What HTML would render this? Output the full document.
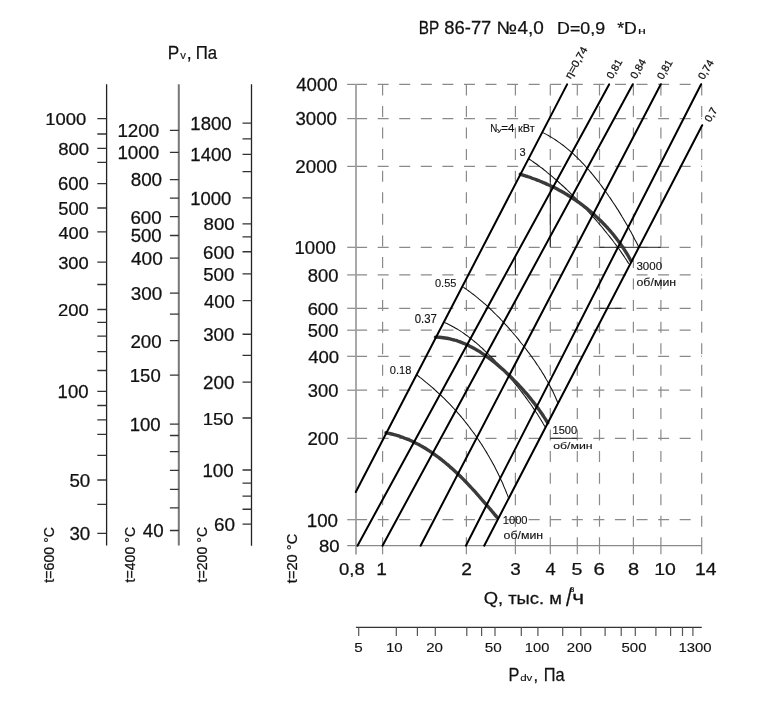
<!DOCTYPE html>
<html><head><meta charset="utf-8"><style>html,body{margin:0;padding:0;background:#fff;width:766px;height:709px;overflow:hidden}svg{display:block;will-change:transform}</style></head>
<body><svg width="766" height="709" viewBox="0 0 766 709">
<rect width="766" height="709" fill="#fff"/>
<line x1="106.6" y1="84.2" x2="106.6" y2="545.5" stroke="#222" stroke-width="1.3"/>
<path d="M97.3 118.7H106.6M97.3 134H106.6M97.3 148.3H106.6M97.3 162.3H106.6M97.3 183.7H106.6M97.3 208H106.6M97.3 231.9H106.6M97.3 262.2H106.6M97.3 284.5H106.6M97.3 309.5H106.6M97.3 322.3H106.6M97.3 336.2H106.6M97.3 351.6H106.6M97.3 370.5H106.6M97.3 391.4H106.6M97.3 405.5H106.6M97.3 419.9H106.6M97.3 434.4H106.6M97.3 455.3H106.6M97.3 480H106.6M97.3 504.3H106.6M97.3 533.4H106.6" stroke="#333" stroke-width="1.3" fill="none"/>
<line x1="178.8" y1="84.2" x2="178.8" y2="545.4" stroke="#777" stroke-width="2.0"/>
<path d="M169.9 130.4H178.8M169.9 152.3H178.8M169.9 179.7H178.8M169.9 198.1H178.8M169.9 216.7H178.8M169.9 235.5H178.8M169.9 258.2H178.8M169.9 293.2H178.8M169.9 314.1H178.8M169.9 340.6H178.8M169.9 375.1H178.8M169.9 424.1H178.8M169.9 435.5H178.8M169.9 451.7H178.8M169.9 470.4H178.8M169.9 489.3H178.8M169.9 507.85H178.8M169.9 530.5H178.8" stroke="#333" stroke-width="1.3" fill="none"/>
<line x1="251.5" y1="84.2" x2="251.5" y2="545.7" stroke="#222" stroke-width="1.3"/>
<path d="M242.5 123.2H251.5M242.5 138.8H251.5M242.5 154.4H251.5M242.5 171.7H251.5M242.5 197.8H251.5M242.5 223.9H251.5M242.5 236.9H251.5M242.5 251.75H251.5M242.5 273.9H251.5M242.5 300.7H251.5M242.5 334.25H251.5M242.5 355.4H251.5M242.5 382.2H251.5M242.5 418H251.5M242.5 470H251.5M242.5 483.1H251.5M242.5 496.2H251.5M242.5 509.25H251.5M242.5 524.1H251.5" stroke="#333" stroke-width="1.3" fill="none"/>
<line x1="347.2" y1="84.4" x2="356.1" y2="84.4" stroke="#8a8a8a" stroke-width="1.2"/>
<line x1="356.1" y1="84.4" x2="702" y2="84.4" stroke="#8a8a8a" stroke-width="1.2" stroke-dasharray="11 10.57"/>
<line x1="347.2" y1="118.6" x2="356.1" y2="118.6" stroke="#8a8a8a" stroke-width="1.2"/>
<line x1="356.1" y1="118.6" x2="702" y2="118.6" stroke="#8a8a8a" stroke-width="1.2" stroke-dasharray="11 10.57"/>
<line x1="347.2" y1="166.4" x2="356.1" y2="166.4" stroke="#8a8a8a" stroke-width="1.2"/>
<line x1="356.1" y1="166.4" x2="702" y2="166.4" stroke="#8a8a8a" stroke-width="1.2" stroke-dasharray="11 10.57"/>
<line x1="347.2" y1="247.3" x2="356.1" y2="247.3" stroke="#8a8a8a" stroke-width="1.2"/>
<line x1="356.1" y1="247.3" x2="702" y2="247.3" stroke="#8a8a8a" stroke-width="1.2" stroke-dasharray="11 10.57"/>
<line x1="347.2" y1="274.9" x2="356.1" y2="274.9" stroke="#8a8a8a" stroke-width="1.2"/>
<line x1="356.1" y1="274.9" x2="702" y2="274.9" stroke="#8a8a8a" stroke-width="1.2" stroke-dasharray="11 10.57"/>
<line x1="347.2" y1="308.3" x2="356.1" y2="308.3" stroke="#8a8a8a" stroke-width="1.2"/>
<line x1="356.1" y1="308.3" x2="702" y2="308.3" stroke="#8a8a8a" stroke-width="1.2" stroke-dasharray="11 10.57"/>
<line x1="347.2" y1="330.2" x2="356.1" y2="330.2" stroke="#8a8a8a" stroke-width="1.2"/>
<line x1="356.1" y1="330.2" x2="702" y2="330.2" stroke="#8a8a8a" stroke-width="1.2" stroke-dasharray="11 10.57"/>
<line x1="347.2" y1="356.3" x2="356.1" y2="356.3" stroke="#8a8a8a" stroke-width="1.2"/>
<line x1="356.1" y1="356.3" x2="702" y2="356.3" stroke="#8a8a8a" stroke-width="1.2" stroke-dasharray="11 10.57"/>
<line x1="347.2" y1="390.2" x2="356.1" y2="390.2" stroke="#8a8a8a" stroke-width="1.2"/>
<line x1="356.1" y1="390.2" x2="702" y2="390.2" stroke="#8a8a8a" stroke-width="1.2" stroke-dasharray="11 10.57"/>
<line x1="347.2" y1="438.3" x2="356.1" y2="438.3" stroke="#8a8a8a" stroke-width="1.2"/>
<line x1="356.1" y1="438.3" x2="702" y2="438.3" stroke="#8a8a8a" stroke-width="1.2" stroke-dasharray="11 10.57"/>
<line x1="347.2" y1="519.7" x2="356.1" y2="519.7" stroke="#8a8a8a" stroke-width="1.2"/>
<line x1="356.1" y1="519.7" x2="702" y2="519.7" stroke="#8a8a8a" stroke-width="1.2" stroke-dasharray="11 10.57"/>
<line x1="347.2" y1="545.6" x2="702" y2="545.6" stroke="#8a8a8a" stroke-width="1.3"/>
<line x1="382.6" y1="84.4" x2="382.6" y2="545.6" stroke="#8a8a8a" stroke-width="1.2" stroke-dasharray="11 10.57"/>
<line x1="382.6" y1="545.6" x2="382.6" y2="554.3" stroke="#8a8a8a" stroke-width="1.2"/>
<line x1="466.4" y1="84.4" x2="466.4" y2="545.6" stroke="#8a8a8a" stroke-width="1.2" stroke-dasharray="11 10.57"/>
<line x1="466.4" y1="545.6" x2="466.4" y2="554.3" stroke="#8a8a8a" stroke-width="1.2"/>
<line x1="515.4" y1="84.4" x2="515.4" y2="545.6" stroke="#8a8a8a" stroke-width="1.2" stroke-dasharray="11 10.57"/>
<line x1="515.4" y1="545.6" x2="515.4" y2="554.3" stroke="#8a8a8a" stroke-width="1.2"/>
<line x1="550.3" y1="84.4" x2="550.3" y2="545.6" stroke="#8a8a8a" stroke-width="1.2" stroke-dasharray="11 10.57"/>
<line x1="550.3" y1="545.6" x2="550.3" y2="554.3" stroke="#8a8a8a" stroke-width="1.2"/>
<line x1="577.3" y1="84.4" x2="577.3" y2="545.6" stroke="#8a8a8a" stroke-width="1.2" stroke-dasharray="11 10.57"/>
<line x1="577.3" y1="545.6" x2="577.3" y2="554.3" stroke="#8a8a8a" stroke-width="1.2"/>
<line x1="599.5" y1="84.4" x2="599.5" y2="545.6" stroke="#8a8a8a" stroke-width="1.2" stroke-dasharray="11 10.57"/>
<line x1="599.5" y1="545.6" x2="599.5" y2="554.3" stroke="#8a8a8a" stroke-width="1.2"/>
<line x1="633.4" y1="84.4" x2="633.4" y2="545.6" stroke="#8a8a8a" stroke-width="1.2" stroke-dasharray="11 10.57"/>
<line x1="633.4" y1="545.6" x2="633.4" y2="554.3" stroke="#8a8a8a" stroke-width="1.2"/>
<line x1="660.9" y1="84.4" x2="660.9" y2="545.6" stroke="#8a8a8a" stroke-width="1.2" stroke-dasharray="11 10.57"/>
<line x1="660.9" y1="545.6" x2="660.9" y2="554.3" stroke="#8a8a8a" stroke-width="1.2"/>
<line x1="701.7" y1="84.4" x2="701.7" y2="545.6" stroke="#8a8a8a" stroke-width="1.2" stroke-dasharray="11 10.57"/>
<line x1="701.7" y1="545.6" x2="701.7" y2="554.3" stroke="#8a8a8a" stroke-width="1.2"/>
<line x1="356.0" y1="84.1" x2="356.0" y2="554.6" stroke="#9a9a9a" stroke-width="1.7"/>
<line x1="550.3" y1="166.4" x2="550.3" y2="247.3" stroke="#222" stroke-width="1"/>
<line x1="599.3" y1="247.3" x2="660.9" y2="247.3" stroke="#222" stroke-width="1"/>
<line x1="515.4" y1="257.6" x2="515.4" y2="274.9" stroke="#222" stroke-width="1"/>
<line x1="599.6" y1="308.3" x2="621.5" y2="308.3" stroke="#222" stroke-width="1"/>
<line x1="466.3" y1="356.3" x2="496.0" y2="356.3" stroke="#222" stroke-width="1"/>
<line x1="550.2" y1="438.3" x2="577.4" y2="438.3" stroke="#222" stroke-width="1"/>
<path d="M542.8 132.6C543.4 132.9 545.2 133.8 546.3 134.4C547.5 135.0 548.6 135.7 549.7 136.3C550.9 137.0 552.0 137.7 553.1 138.4C554.2 139.0 555.3 139.8 556.4 140.5C557.4 141.2 558.5 141.9 559.5 142.7C560.6 143.5 561.6 144.2 562.7 145.0C563.7 145.8 564.7 146.6 565.7 147.4C566.7 148.2 567.7 149.0 568.7 149.9C569.6 150.7 570.6 151.6 571.6 152.4C572.5 153.3 573.5 154.1 574.4 155.0C575.4 155.9 576.3 156.8 577.2 157.7C578.1 158.6 579.1 159.5 580.0 160.4C580.9 161.4 581.8 162.3 582.6 163.2C583.5 164.2 584.4 165.1 585.3 166.1C586.1 167.0 587.0 168.0 587.9 169.0C588.7 169.9 589.6 170.9 590.4 171.9C591.2 172.9 592.1 173.9 592.9 174.9C593.7 175.9 594.5 176.9 595.3 177.9C596.1 178.9 596.9 179.9 597.7 180.9C598.5 182.0 599.3 183.0 600.1 184.0C600.9 185.1 601.7 186.1 602.4 187.1C603.2 188.2 604.0 189.2 604.7 190.3C605.5 191.3 606.2 192.4 607.0 193.5C607.7 194.5 608.5 195.6 609.2 196.7C609.9 197.7 610.7 198.8 611.4 199.9C612.1 201.0 612.8 202.0 613.5 203.1C614.3 204.2 615.0 205.3 615.7 206.4C616.4 207.5 617.1 208.6 617.8 209.6C618.4 210.7 619.1 211.8 619.8 212.9C620.5 214.0 621.2 215.1 621.8 216.3C622.5 217.4 623.2 218.5 623.8 219.6C624.5 220.7 625.1 221.8 625.8 222.9C626.4 224.0 627.1 225.2 627.7 226.3C628.4 227.4 629.0 228.5 629.6 229.7C630.2 230.8 630.9 231.9 631.5 233.0C632.1 234.2 632.7 235.3 633.3 236.5C633.9 237.6 634.5 238.7 635.1 239.9C635.7 241.0 636.3 242.2 636.9 243.3C637.5 244.5 638.3 246.2 638.6 246.8" stroke="#111" stroke-width="1.05" fill="none"/>
<path d="M529.1 159.0C529.6 159.4 531.2 160.4 532.2 161.1C533.2 161.8 534.3 162.5 535.3 163.3C536.3 164.0 537.3 164.7 538.3 165.5C539.3 166.2 540.3 167.0 541.3 167.7C542.3 168.5 543.3 169.2 544.2 170.0C545.2 170.8 546.2 171.5 547.1 172.3C548.1 173.1 549.1 173.9 550.0 174.7C551.0 175.5 551.9 176.3 552.9 177.1C553.8 177.9 554.7 178.7 555.7 179.5C556.6 180.3 557.5 181.1 558.5 182.0C559.4 182.8 560.3 183.6 561.2 184.5C562.1 185.3 563.1 186.1 564.0 187.0C564.9 187.8 565.8 188.7 566.7 189.5C567.6 190.4 568.5 191.2 569.4 192.1C570.2 193.0 571.1 193.8 572.0 194.7C572.9 195.6 573.8 196.5 574.7 197.3C575.5 198.2 576.4 199.1 577.3 200.0C578.2 200.9 579.0 201.8 579.9 202.7C580.8 203.6 581.6 204.5 582.5 205.4C583.3 206.3 584.2 207.2 585.0 208.1C585.9 209.0 586.7 209.9 587.6 210.8C588.4 211.7 589.3 212.7 590.1 213.6C590.9 214.5 591.8 215.4 592.6 216.4C593.4 217.3 594.3 218.2 595.1 219.2C595.9 220.1 596.7 221.0 597.5 222.0C598.4 222.9 599.2 223.9 600.0 224.8C600.8 225.8 601.6 226.7 602.4 227.7C603.2 228.6 604.0 229.6 604.8 230.6C605.6 231.5 606.4 232.5 607.1 233.5C607.9 234.4 608.7 235.4 609.5 236.4C610.2 237.4 611.0 238.4 611.8 239.3C612.5 240.3 613.3 241.3 614.0 242.3C614.8 243.3 615.5 244.3 616.3 245.3C617.0 246.3 617.8 247.3 618.5 248.3C619.2 249.3 619.9 250.3 620.6 251.3C621.3 252.3 622.1 253.4 622.7 254.4C623.4 255.4 624.1 256.4 624.8 257.5C625.5 258.5 626.2 259.5 626.8 260.6C627.5 261.6 628.5 263.2 628.8 263.7" stroke="#111" stroke-width="1.05" fill="none"/>
<path d="M463.3 287.2C463.8 287.6 465.5 288.6 466.5 289.4C467.6 290.1 468.6 290.9 469.7 291.6C470.7 292.4 471.8 293.2 472.8 294.0C473.8 294.8 474.8 295.6 475.8 296.4C476.9 297.2 477.9 298.0 478.8 298.8C479.8 299.6 480.8 300.5 481.8 301.3C482.8 302.1 483.7 303.0 484.7 303.8C485.7 304.7 486.6 305.6 487.6 306.4C488.5 307.3 489.5 308.2 490.4 309.1C491.3 310.0 492.3 310.9 493.2 311.8C494.1 312.7 495.0 313.6 495.9 314.5C496.8 315.4 497.8 316.3 498.7 317.2C499.6 318.2 500.4 319.1 501.3 320.0C502.2 321.0 503.1 321.9 504.0 322.9C504.9 323.8 505.7 324.8 506.6 325.7C507.5 326.7 508.3 327.6 509.2 328.6C510.0 329.6 510.9 330.5 511.7 331.5C512.6 332.5 513.4 333.5 514.3 334.5C515.1 335.5 515.9 336.4 516.8 337.4C517.6 338.4 518.4 339.4 519.2 340.4C520.0 341.4 520.8 342.5 521.6 343.5C522.5 344.5 523.3 345.5 524.0 346.5C524.8 347.5 525.6 348.6 526.4 349.6C527.2 350.6 528.0 351.7 528.7 352.7C529.5 353.7 530.3 354.8 531.0 355.8C531.8 356.9 532.5 357.9 533.3 359.0C534.0 360.0 534.8 361.1 535.5 362.1C536.2 363.2 536.9 364.3 537.6 365.3C538.4 366.4 539.1 367.5 539.8 368.6C540.5 369.7 541.2 370.7 541.8 371.8C542.5 372.9 543.2 374.0 543.9 375.1C544.5 376.2 545.2 377.3 545.8 378.5C546.5 379.6 547.1 380.7 547.7 381.8C548.4 382.9 549.0 384.1 549.6 385.2C550.2 386.3 550.8 387.5 551.4 388.6C552.0 389.8 552.5 390.9 553.1 392.1C553.7 393.3 554.2 394.4 554.7 395.6C555.3 396.8 555.8 398.0 556.3 399.2C556.8 400.4 557.6 402.2 557.8 402.8" stroke="#111" stroke-width="1.05" fill="none"/>
<path d="M444.4 322.4C445.0 322.7 446.7 323.4 447.9 324.0C449.0 324.5 450.1 325.1 451.2 325.7C452.3 326.3 453.4 326.9 454.5 327.5C455.6 328.1 456.7 328.8 457.8 329.4C458.8 330.1 459.9 330.7 460.9 331.4C462.0 332.1 463.0 332.8 464.0 333.5C465.1 334.3 466.1 335.0 467.1 335.7C468.1 336.5 469.1 337.2 470.1 338.0C471.1 338.8 472.0 339.5 473.0 340.3C474.0 341.1 474.9 341.9 475.9 342.7C476.9 343.5 477.8 344.4 478.8 345.2C479.7 346.0 480.6 346.9 481.6 347.7C482.5 348.6 483.4 349.4 484.3 350.3C485.2 351.1 486.2 352.0 487.1 352.9C488.0 353.8 488.9 354.7 489.7 355.5C490.6 356.4 491.5 357.3 492.4 358.2C493.3 359.1 494.2 360.0 495.0 360.9C495.9 361.9 496.8 362.8 497.6 363.7C498.5 364.6 499.3 365.5 500.2 366.5C501.0 367.4 501.9 368.3 502.7 369.3C503.6 370.2 504.4 371.2 505.2 372.1C506.1 373.1 506.9 374.0 507.7 375.0C508.5 375.9 509.3 376.9 510.1 377.8C511.0 378.8 511.8 379.7 512.6 380.7C513.4 381.7 514.2 382.6 515.0 383.6C515.8 384.6 516.5 385.6 517.3 386.5C518.1 387.5 518.9 388.5 519.7 389.5C520.4 390.5 521.2 391.5 522.0 392.4C522.7 393.4 523.5 394.4 524.2 395.4C525.0 396.4 525.7 397.4 526.5 398.4C527.2 399.4 528.0 400.4 528.7 401.5C529.4 402.5 530.2 403.5 530.9 404.5C531.6 405.5 532.3 406.6 533.0 407.6C533.7 408.6 534.4 409.7 535.1 410.7C535.8 411.7 536.5 412.8 537.2 413.8C537.9 414.9 538.5 416.0 539.2 417.0C539.9 418.1 540.5 419.2 541.2 420.2C541.8 421.3 542.5 422.4 543.1 423.5C543.8 424.6 544.7 426.3 545.0 426.8" stroke="#111" stroke-width="1.05" fill="none"/>
<path d="M416.8 374.9C417.3 375.3 418.9 376.5 419.9 377.3C421.0 378.1 422.0 378.9 423.1 379.8C424.1 380.6 425.1 381.4 426.1 382.3C427.1 383.1 428.2 384.0 429.2 384.8C430.2 385.7 431.2 386.6 432.2 387.4C433.2 388.3 434.2 389.2 435.2 390.1C436.1 391.0 437.1 391.9 438.1 392.8C439.1 393.7 440.0 394.6 441.0 395.5C442.0 396.4 442.9 397.3 443.9 398.2C444.8 399.2 445.7 400.1 446.7 401.1C447.6 402.0 448.5 402.9 449.5 403.9C450.4 404.9 451.3 405.8 452.2 406.8C453.1 407.8 454.0 408.7 454.9 409.7C455.8 410.7 456.7 411.7 457.5 412.7C458.4 413.7 459.3 414.7 460.2 415.7C461.0 416.7 461.9 417.7 462.7 418.7C463.6 419.8 464.4 420.8 465.2 421.8C466.1 422.9 466.9 423.9 467.7 424.9C468.5 426.0 469.3 427.0 470.1 428.1C470.9 429.2 471.7 430.2 472.5 431.3C473.3 432.4 474.1 433.4 474.9 434.5C475.6 435.6 476.4 436.7 477.1 437.8C477.9 438.9 478.6 439.9 479.4 441.1C480.1 442.2 480.9 443.3 481.6 444.4C482.3 445.5 483.0 446.6 483.7 447.7C484.4 448.8 485.1 450.0 485.8 451.1C486.5 452.2 487.2 453.4 487.8 454.5C488.5 455.7 489.2 456.8 489.8 458.0C490.5 459.1 491.1 460.3 491.8 461.4C492.4 462.6 493.0 463.8 493.7 464.9C494.3 466.1 494.9 467.3 495.5 468.5C496.1 469.7 496.7 470.8 497.3 472.0C497.9 473.2 498.5 474.4 499.0 475.6C499.6 476.8 500.2 478.0 500.7 479.2C501.3 480.4 501.8 481.6 502.4 482.8C502.9 484.1 503.4 485.3 503.9 486.5C504.5 487.7 505.0 489.0 505.5 490.2C506.0 491.4 506.5 492.6 507.0 493.9C507.5 495.1 508.2 497.0 508.4 497.6" stroke="#111" stroke-width="1.05" fill="none"/>
<path d="M520.3 174.3C520.9 174.5 522.7 175.0 523.9 175.4C525.1 175.8 526.3 176.2 527.5 176.5C528.6 176.9 529.8 177.3 531.0 177.7C532.2 178.2 533.3 178.6 534.5 179.0C535.6 179.4 536.8 179.9 537.9 180.3C539.1 180.8 540.2 181.2 541.4 181.7C542.5 182.2 543.6 182.7 544.8 183.1C545.9 183.6 547.0 184.1 548.1 184.7C549.3 185.2 550.4 185.7 551.5 186.2C552.6 186.8 553.7 187.3 554.8 187.8C555.9 188.4 557.0 189.0 558.0 189.5C559.1 190.1 560.2 190.7 561.3 191.3C562.3 191.9 563.4 192.5 564.5 193.1C565.5 193.7 566.6 194.4 567.6 195.0C568.7 195.7 569.7 196.3 570.8 197.0C571.8 197.6 572.8 198.3 573.8 199.0C574.9 199.7 575.9 200.4 576.9 201.1C577.9 201.8 578.9 202.5 579.9 203.2C580.9 204.0 581.9 204.7 582.9 205.4C583.9 206.2 584.8 206.9 585.8 207.7C586.8 208.5 587.8 209.3 588.7 210.1C589.7 210.8 590.6 211.6 591.6 212.5C592.5 213.3 593.4 214.1 594.4 214.9C595.3 215.7 596.2 216.6 597.1 217.4C598.0 218.3 598.9 219.1 599.8 220.0C600.7 220.9 601.6 221.7 602.5 222.6C603.3 223.5 604.2 224.4 605.1 225.3C605.9 226.2 606.8 227.1 607.6 228.0C608.4 229.0 609.3 229.9 610.1 230.8C610.9 231.8 611.7 232.7 612.5 233.7C613.3 234.6 614.1 235.6 614.8 236.6C615.6 237.5 616.4 238.5 617.1 239.5C617.9 240.5 618.6 241.5 619.4 242.5C620.1 243.4 620.8 244.4 621.5 245.5C622.2 246.5 622.9 247.5 623.6 248.5C624.2 249.5 624.9 250.5 625.6 251.6C626.2 252.6 626.8 253.6 627.5 254.7C628.1 255.7 628.7 256.8 629.3 257.8C629.9 258.9 630.7 260.5 631.0 261.0" stroke="#3a3a3a" stroke-width="3.4" fill="none" stroke-linecap="round"/>
<path d="M435.4 337.1C436.0 337.1 438.0 337.2 439.3 337.3C440.6 337.4 441.9 337.5 443.2 337.7C444.5 337.9 445.7 338.1 447.0 338.3C448.2 338.5 449.4 338.8 450.7 339.1C451.9 339.4 453.1 339.7 454.3 340.0C455.5 340.4 456.7 340.7 457.8 341.1C459.0 341.5 460.2 342.0 461.3 342.4C462.5 342.8 463.6 343.3 464.8 343.8C465.9 344.3 467.0 344.8 468.1 345.3C469.2 345.9 470.3 346.4 471.4 347.0C472.5 347.6 473.6 348.2 474.7 348.8C475.8 349.4 476.8 350.0 477.9 350.6C479.0 351.3 480.0 351.9 481.0 352.6C482.1 353.3 483.1 354.0 484.1 354.7C485.2 355.4 486.2 356.1 487.2 356.8C488.2 357.5 489.2 358.3 490.2 359.0C491.2 359.8 492.2 360.6 493.2 361.3C494.2 362.1 495.1 362.9 496.1 363.7C497.1 364.5 498.0 365.3 499.0 366.1C500.0 366.9 500.9 367.8 501.8 368.6C502.8 369.4 503.7 370.3 504.7 371.1C505.6 372.0 506.5 372.8 507.4 373.7C508.3 374.6 509.2 375.4 510.1 376.3C511.0 377.2 511.9 378.1 512.8 379.0C513.7 379.9 514.6 380.8 515.5 381.7C516.3 382.6 517.2 383.5 518.1 384.4C518.9 385.3 519.8 386.2 520.6 387.2C521.5 388.1 522.3 389.0 523.2 390.0C524.0 390.9 524.8 391.8 525.6 392.8C526.5 393.7 527.3 394.7 528.1 395.6C528.9 396.6 529.7 397.6 530.5 398.5C531.2 399.5 532.0 400.5 532.8 401.5C533.6 402.4 534.3 403.4 535.1 404.4C535.9 405.4 536.6 406.4 537.3 407.4C538.1 408.4 538.8 409.4 539.5 410.4C540.2 411.4 541.0 412.5 541.7 413.5C542.4 414.5 543.1 415.5 543.7 416.6C544.4 417.6 545.1 418.7 545.8 419.7C546.4 420.8 547.4 422.4 547.7 422.9" stroke="#3a3a3a" stroke-width="3.4" fill="none" stroke-linecap="round"/>
<path d="M386.0 432.8C386.6 432.9 388.4 433.3 389.6 433.5C390.8 433.8 392.0 434.1 393.2 434.4C394.4 434.7 395.6 435.1 396.8 435.4C398.0 435.8 399.1 436.1 400.3 436.5C401.4 436.9 402.6 437.3 403.7 437.8C404.9 438.2 406.0 438.6 407.2 439.1C408.3 439.6 409.4 440.0 410.5 440.5C411.6 441.0 412.7 441.6 413.8 442.1C414.9 442.6 416.0 443.2 417.1 443.7C418.2 444.3 419.2 444.9 420.3 445.5C421.4 446.0 422.4 446.6 423.5 447.3C424.5 447.9 425.6 448.5 426.6 449.2C427.7 449.8 428.7 450.5 429.7 451.1C430.7 451.8 431.7 452.5 432.7 453.2C433.7 453.9 434.7 454.6 435.7 455.3C436.7 456.0 437.7 456.7 438.7 457.5C439.7 458.2 440.6 459.0 441.6 459.7C442.5 460.5 443.5 461.2 444.4 462.0C445.4 462.8 446.3 463.6 447.3 464.4C448.2 465.2 449.1 466.0 450.0 466.8C451.0 467.6 451.9 468.4 452.8 469.2C453.7 470.0 454.6 470.9 455.5 471.7C456.4 472.5 457.3 473.4 458.2 474.2C459.1 475.1 459.9 475.9 460.8 476.8C461.7 477.7 462.5 478.5 463.4 479.4C464.3 480.3 465.1 481.1 466.0 482.0C466.8 482.9 467.7 483.8 468.5 484.7C469.4 485.6 470.2 486.5 471.0 487.4C471.9 488.3 472.7 489.2 473.5 490.1C474.3 491.0 475.2 491.9 476.0 492.8C476.8 493.7 477.6 494.6 478.4 495.5C479.2 496.5 480.0 497.4 480.8 498.3C481.6 499.2 482.4 500.1 483.2 501.1C484.0 502.0 484.8 502.9 485.6 503.8C486.4 504.8 487.2 505.7 488.0 506.6C488.8 507.5 489.6 508.5 490.4 509.4C491.2 510.3 491.9 511.3 492.7 512.2C493.5 513.1 494.3 514.1 495.1 515.0C495.9 515.9 497.0 517.3 497.4 517.8" stroke="#3a3a3a" stroke-width="3.4" fill="none" stroke-linecap="round"/>
<line x1="355.8" y1="492.0" x2="567.1" y2="84.4" stroke="#000" stroke-width="2.0" stroke-linecap="round"/>
<line x1="357.5" y1="545.7" x2="609.1" y2="84.4" stroke="#000" stroke-width="2.0" stroke-linecap="round"/>
<line x1="382.5" y1="545.7" x2="632.8" y2="84.2" stroke="#000" stroke-width="2.0" stroke-linecap="round"/>
<line x1="420.6" y1="545.7" x2="660.8" y2="84.2" stroke="#000" stroke-width="2.0" stroke-linecap="round"/>
<line x1="465.9" y1="545.7" x2="701.1" y2="84.2" stroke="#000" stroke-width="2.0" stroke-linecap="round"/>
<line x1="484.2" y1="545.7" x2="702.2" y2="125.2" stroke="#000" stroke-width="2.0" stroke-linecap="round"/>
<line x1="355.9" y1="627.4" x2="701.8" y2="627.4" stroke="#333" stroke-width="1.1"/>
<path d="M358.7 627.4V636.1M396.3 627.4V636.1M417.4 627.4V636.1M435.3 627.4V636.1M466.8 627.4V636.1M481.6 627.4V636.1M495 627.4V636.1M521.3 627.4V636.1M537.9 627.4V636.1M562.7 627.4V636.1M580.8 627.4V636.1M605.1 627.4V636.1M621.2 627.4V636.1M635.3 627.4V636.1M655.9 627.4V636.1M670.6 627.4V636.1M682.5 627.4V636.1M692.9 627.4V636.1" stroke="#555" stroke-width="1.2" fill="none"/>
<text font-family="Liberation Sans" font-size="17.97" fill="#111" stroke="#111" stroke-width="0.25" transform="matrix(0.8532 0 0 1 418.87 33.60)">ВР</text>
<text font-family="Liberation Sans" font-size="17.71" fill="#111" stroke="#111" stroke-width="0.25" transform="matrix(1.0376 0 0 1 444.36 33.60)">86-77</text>
<text font-family="Liberation Sans" font-size="17.97" fill="#111" stroke="#111" stroke-width="0.25" transform="matrix(1.0650 0 0 1 496.58 33.60)">№</text>
<text font-family="Liberation Sans" font-size="17.71" fill="#111" stroke="#111" stroke-width="0.25" transform="matrix(1.0696 0 0 1 517.52 33.60)">4,0</text>
<text font-family="Liberation Sans" font-size="17.39" fill="#111" stroke="#111" stroke-width="0.25" transform="matrix(1.0247 0 0 1 557.07 33.50)">D=0,9</text>
<text font-family="Liberation Sans" font-size="17.39" fill="#111" stroke="#111" stroke-width="0.25" transform="matrix(1.0131 0 0 1 617.15 33.50)">*D</text>
<text font-family="Liberation Sans" font-size="8.49" fill="#111" stroke="#111" stroke-width="0.12" transform="matrix(1.6825 0 0 1 638.00 33.50)">н</text>
<text font-family="Liberation Sans" font-size="18.12" fill="#111" stroke="#111" stroke-width="0.25" transform="matrix(0.9507 0 0 1 167.82 58.80)">P</text>
<text font-family="Liberation Sans" font-size="10.00" fill="#111" stroke="#111" stroke-width="0.12" transform="matrix(1.1400 0 0 1 180.30 58.80)">v</text>
<text font-family="Liberation Sans" font-size="17.50" fill="#111" stroke="#111" stroke-width="0.25" transform="matrix(1.0000 0 0 1 186.65 58.80)">,</text>
<text font-family="Liberation Sans" font-size="18.12" fill="#111" stroke="#111" stroke-width="0.25" transform="matrix(0.9246 0 0 1 195.76 58.80)">Па</text>
<text font-family="Liberation Sans" font-size="17.18" fill="#111" stroke="#111" stroke-width="0.25" transform="matrix(1.0733 0 0 1 45.31 124.83)">1000</text>
<text font-family="Liberation Sans" font-size="17.32" fill="#111" stroke="#111" stroke-width="0.25" transform="matrix(1.0746 0 0 1 58.16 154.83)">800</text>
<text font-family="Liberation Sans" font-size="17.46" fill="#111" stroke="#111" stroke-width="0.25" transform="matrix(1.0582 0 0 1 57.98 189.83)">600</text>
<text font-family="Liberation Sans" font-size="17.89" fill="#111" stroke="#111" stroke-width="0.25" transform="matrix(1.0267 0 0 1 58.17 214.82)">500</text>
<text font-family="Liberation Sans" font-size="17.32" fill="#111" stroke="#111" stroke-width="0.25" transform="matrix(1.0469 0 0 1 58.54 239.13)">400</text>
<text font-family="Liberation Sans" font-size="17.32" fill="#111" stroke="#111" stroke-width="0.25" transform="matrix(1.0601 0 0 1 58.17 269.13)">300</text>
<text font-family="Liberation Sans" font-size="17.18" fill="#111" stroke="#111" stroke-width="0.25" transform="matrix(1.0755 0 0 1 57.98 316.03)">200</text>
<text font-family="Liberation Sans" font-size="17.61" fill="#111" stroke="#111" stroke-width="0.25" transform="matrix(1.0523 0 0 1 57.60 397.82)">100</text>
<text font-family="Liberation Sans" font-size="17.46" fill="#111" stroke="#111" stroke-width="0.25" transform="matrix(1.0729 0 0 1 69.45 486.63)">50</text>
<text font-family="Liberation Sans" font-size="17.61" fill="#111" stroke="#111" stroke-width="0.25" transform="matrix(1.0643 0 0 1 69.45 539.82)">30</text>
<text font-family="Liberation Sans" font-size="17.46" fill="#111" stroke="#111" stroke-width="0.25" transform="matrix(1.0776 0 0 1 117.38 136.63)">1200</text>
<text font-family="Liberation Sans" font-size="17.89" fill="#111" stroke="#111" stroke-width="0.25" transform="matrix(1.0522 0 0 1 117.38 158.72)">1000</text>
<text font-family="Liberation Sans" font-size="17.46" fill="#111" stroke="#111" stroke-width="0.25" transform="matrix(1.0803 0 0 1 130.65 185.93)">800</text>
<text font-family="Liberation Sans" font-size="17.89" fill="#111" stroke="#111" stroke-width="0.25" transform="matrix(1.0473 0 0 1 130.46 224.02)">600</text>
<text font-family="Liberation Sans" font-size="17.46" fill="#111" stroke="#111" stroke-width="0.25" transform="matrix(1.0659 0 0 1 130.66 241.63)">500</text>
<text font-family="Liberation Sans" font-size="17.46" fill="#111" stroke="#111" stroke-width="0.25" transform="matrix(1.0918 0 0 1 131.02 265.03)">400</text>
<text font-family="Liberation Sans" font-size="17.89" fill="#111" stroke="#111" stroke-width="0.25" transform="matrix(1.0548 0 0 1 130.65 299.82)">300</text>
<text font-family="Liberation Sans" font-size="17.46" fill="#111" stroke="#111" stroke-width="0.25" transform="matrix(1.0727 0 0 1 130.46 347.83)">200</text>
<text font-family="Liberation Sans" font-size="17.46" fill="#111" stroke="#111" stroke-width="0.25" transform="matrix(1.0607 0 0 1 129.80 382.03)">150</text>
<text font-family="Liberation Sans" font-size="17.46" fill="#111" stroke="#111" stroke-width="0.25" transform="matrix(1.0644 0 0 1 129.70 430.53)">100</text>
<text font-family="Liberation Sans" font-size="17.46" fill="#111" stroke="#111" stroke-width="0.25" transform="matrix(1.0743 0 0 1 142.72 536.83)">40</text>
<text font-family="Liberation Sans" font-size="17.46" fill="#111" stroke="#111" stroke-width="0.25" transform="matrix(1.0641 0 0 1 190.30 129.83)">1800</text>
<text font-family="Liberation Sans" font-size="17.46" fill="#111" stroke="#111" stroke-width="0.25" transform="matrix(1.0641 0 0 1 190.30 160.83)">1400</text>
<text font-family="Liberation Sans" font-size="17.61" fill="#111" stroke="#111" stroke-width="0.25" transform="matrix(1.0503 0 0 1 190.31 204.72)">1000</text>
<text font-family="Liberation Sans" font-size="17.18" fill="#111" stroke="#111" stroke-width="0.25" transform="matrix(1.0834 0 0 1 203.56 230.33)">800</text>
<text font-family="Liberation Sans" font-size="17.89" fill="#111" stroke="#111" stroke-width="0.25" transform="matrix(1.0473 0 0 1 203.06 258.62)">600</text>
<text font-family="Liberation Sans" font-size="17.89" fill="#111" stroke="#111" stroke-width="0.25" transform="matrix(1.0408 0 0 1 203.26 280.82)">500</text>
<text font-family="Liberation Sans" font-size="18.03" fill="#111" stroke="#111" stroke-width="0.25" transform="matrix(1.0232 0 0 1 203.93 307.62)">400</text>
<text font-family="Liberation Sans" font-size="17.89" fill="#111" stroke="#111" stroke-width="0.25" transform="matrix(1.0408 0 0 1 203.26 340.72)">300</text>
<text font-family="Liberation Sans" font-size="17.61" fill="#111" stroke="#111" stroke-width="0.25" transform="matrix(1.0641 0 0 1 203.06 388.82)">200</text>
<text font-family="Liberation Sans" font-size="17.32" fill="#111" stroke="#111" stroke-width="0.25" transform="matrix(1.0694 0 0 1 202.70 424.63)">150</text>
<text font-family="Liberation Sans" font-size="17.46" fill="#111" stroke="#111" stroke-width="0.25" transform="matrix(1.0718 0 0 1 202.39 476.63)">100</text>
<text font-family="Liberation Sans" font-size="17.46" fill="#111" stroke="#111" stroke-width="0.25" transform="matrix(1.0834 0 0 1 214.05 530.73)">60</text>
<text font-family="Liberation Sans" font-size="17.61" fill="#111" stroke="#111" stroke-width="0.25" transform="matrix(1.0601 0 0 1 296.23 91.02)">4000</text>
<text font-family="Liberation Sans" font-size="17.46" fill="#111" stroke="#111" stroke-width="0.25" transform="matrix(1.0706 0 0 1 295.45 124.83)">3000</text>
<text font-family="Liberation Sans" font-size="17.75" fill="#111" stroke="#111" stroke-width="0.25" transform="matrix(1.0585 0 0 1 295.26 172.82)">2000</text>
<text font-family="Liberation Sans" font-size="17.46" fill="#111" stroke="#111" stroke-width="0.25" transform="matrix(1.0668 0 0 1 294.50 253.53)">1000</text>
<text font-family="Liberation Sans" font-size="17.75" fill="#111" stroke="#111" stroke-width="0.25" transform="matrix(1.0348 0 0 1 307.87 281.72)">800</text>
<text font-family="Liberation Sans" font-size="17.32" fill="#111" stroke="#111" stroke-width="0.25" transform="matrix(1.0558 0 0 1 307.69 314.63)">600</text>
<text font-family="Liberation Sans" font-size="17.89" fill="#111" stroke="#111" stroke-width="0.25" transform="matrix(1.0267 0 0 1 307.87 337.02)">500</text>
<text font-family="Liberation Sans" font-size="17.32" fill="#111" stroke="#111" stroke-width="0.25" transform="matrix(1.0720 0 0 1 308.23 362.83)">400</text>
<text font-family="Liberation Sans" font-size="17.89" fill="#111" stroke="#111" stroke-width="0.25" transform="matrix(1.0267 0 0 1 307.87 396.72)">300</text>
<text font-family="Liberation Sans" font-size="17.46" fill="#111" stroke="#111" stroke-width="0.25" transform="matrix(1.0727 0 0 1 307.46 444.93)">200</text>
<text font-family="Liberation Sans" font-size="17.46" fill="#111" stroke="#111" stroke-width="0.25" transform="matrix(1.0718 0 0 1 306.79 527.23)">100</text>
<text font-family="Liberation Sans" font-size="16.20" fill="#111" stroke="#111" stroke-width="0.25" transform="matrix(1.1449 0 0 1 318.96 551.64)">80</text>
<text font-family="Liberation Sans" font-size="16.90" fill="#111" stroke="#111" stroke-width="0.25" transform="matrix(1.0975 0 0 1 339.06 574.63)">0,8</text>
<text font-family="Liberation Sans" font-size="16.90" fill="#111" stroke="#111" stroke-width="0.25" transform="matrix(1.1295 0 0 1 376.16 574.63)">1</text>
<text font-family="Liberation Sans" font-size="16.90" fill="#111" stroke="#111" stroke-width="0.25" transform="matrix(1.1319 0 0 1 461.14 574.63)">2</text>
<text font-family="Liberation Sans" font-size="16.90" fill="#111" stroke="#111" stroke-width="0.25" transform="matrix(1.1204 0 0 1 510.24 574.63)">3</text>
<text font-family="Liberation Sans" font-size="16.90" fill="#111" stroke="#111" stroke-width="0.25" transform="matrix(1.0905 0 0 1 545.53 574.63)">4</text>
<text font-family="Liberation Sans" font-size="16.90" fill="#111" stroke="#111" stroke-width="0.25" transform="matrix(1.1587 0 0 1 571.62 574.63)">5</text>
<text font-family="Liberation Sans" font-size="16.90" fill="#111" stroke="#111" stroke-width="0.25" transform="matrix(1.2091 0 0 1 593.48 574.63)">6</text>
<text font-family="Liberation Sans" font-size="16.90" fill="#111" stroke="#111" stroke-width="0.25" transform="matrix(1.1833 0 0 1 628.00 574.63)">8</text>
<text font-family="Liberation Sans" font-size="16.90" fill="#111" stroke="#111" stroke-width="0.25" transform="matrix(1.1538 0 0 1 654.24 574.63)">10</text>
<text font-family="Liberation Sans" font-size="16.90" fill="#111" stroke="#111" stroke-width="0.25" transform="matrix(1.1423 0 0 1 694.95 574.63)">14</text>
<text font-family="Liberation Sans" font-size="16.76" fill="#111" stroke="#111" stroke-width="0.25" transform="matrix(1.0984 0 0 1 483.66 603.73)">Q, тыс. м</text>
<text font-family="Liberation Sans" font-size="23.78" fill="#111" stroke="#111" stroke-width="0.25" transform="matrix(0.8860 0 0 1 565.90 605.56)">/</text>
<text font-family="Liberation Sans" font-size="17.74" fill="#111" stroke="#111" stroke-width="0.25" transform="matrix(1.2867 0 0 1 572.13 603.90)">ч</text>
<text font-family="Liberation Sans" font-size="8.73" fill="#111" stroke="#111" stroke-width="0.12" transform="matrix(1.0885 0 0 1 569.91 591.91)">з</text>
<text font-family="Liberation Sans" font-size="12.71" fill="#111" stroke="#111" stroke-width="0.12" transform="matrix(1.1962 0 0 1 354.29 652.17)">5</text>
<text font-family="Liberation Sans" font-size="12.54" fill="#111" stroke="#111" stroke-width="0.12" transform="matrix(1.2046 0 0 1 385.94 652.17)">10</text>
<text font-family="Liberation Sans" font-size="12.54" fill="#111" stroke="#111" stroke-width="0.12" transform="matrix(1.2045 0 0 1 426.15 652.17)">20</text>
<text font-family="Liberation Sans" font-size="12.54" fill="#111" stroke="#111" stroke-width="0.12" transform="matrix(1.2160 0 0 1 484.79 652.17)">50</text>
<text font-family="Liberation Sans" font-size="12.96" fill="#111" stroke="#111" stroke-width="0.12" transform="matrix(1.1329 0 0 1 524.87 651.67)">100</text>
<text font-family="Liberation Sans" font-size="12.96" fill="#111" stroke="#111" stroke-width="0.12" transform="matrix(1.1625 0 0 1 566.75 651.67)">200</text>
<text font-family="Liberation Sans" font-size="12.96" fill="#111" stroke="#111" stroke-width="0.12" transform="matrix(1.1552 0 0 1 621.50 651.67)">500</text>
<text font-family="Liberation Sans" font-size="12.96" fill="#111" stroke="#111" stroke-width="0.12" transform="matrix(1.1503 0 0 1 678.46 651.67)">1300</text>
<text font-family="Liberation Sans" font-size="18.12" fill="#111" stroke="#111" stroke-width="0.25" transform="matrix(0.8996 0 0 1 508.50 680.80)">P</text>
<text font-family="Liberation Sans" font-size="9.59" fill="#111" stroke="#111" stroke-width="0.12" transform="matrix(1.2074 0 0 1 520.14 680.70)">dv</text>
<text font-family="Liberation Sans" font-size="16.50" fill="#111" stroke="#111" stroke-width="0.25" transform="matrix(1.0000 0 0 1 533.44 680.80)">,</text>
<text font-family="Liberation Sans" font-size="18.12" fill="#111" stroke="#111" stroke-width="0.25" transform="matrix(0.9016 0 0 1 543.69 680.80)">Па</text>
<text font-family="Liberation Sans" font-size="11.30" fill="#111" stroke="#111" stroke-width="0.12" transform="matrix(0.8688 0 0 1 490.31 131.90)">N</text>
<text font-family="Liberation Sans" font-size="5.81" fill="#111" stroke="#111" stroke-width="0.12" transform="matrix(1.6177 0 0 1 496.90 132.08)">у</text>
<text font-family="Liberation Sans" font-size="11.14" fill="#111" stroke="#111" stroke-width="0.12" transform="matrix(1.0414 0 0 1 501.22 131.90)">=4</text>
<text font-family="Liberation Sans" font-size="11.30" fill="#111" stroke="#111" stroke-width="0.12" transform="matrix(0.9694 0 0 1 518.04 131.90)">кВт</text>
<text font-family="Liberation Sans" font-size="10.42" fill="#111" stroke="#111" stroke-width="0.12" transform="matrix(1.0615 0 0 1 519.46 155.50)">3</text>
<text font-family="Liberation Sans" font-size="11.55" fill="#111" stroke="#111" stroke-width="0.12" transform="matrix(0.9538 0 0 1 434.96 287.28)">0.55</text>
<text font-family="Liberation Sans" font-size="11.97" fill="#111" stroke="#111" stroke-width="0.12" transform="matrix(0.9521 0 0 1 414.64 323.38)">0.37</text>
<text font-family="Liberation Sans" font-size="10.70" fill="#111" stroke="#111" stroke-width="0.12" transform="matrix(1.0347 0 0 1 389.86 374.09)">0.18</text>
<text font-family="Liberation Sans" font-size="10.56" fill="#111" stroke="#111" stroke-width="0.12" transform="matrix(1.0920 0 0 1 636.44 269.79)">3000</text>
<text font-family="Liberation Sans" font-size="10.93" fill="#111" stroke="#111" stroke-width="0.12" transform="matrix(1.1330 0 0 1 636.50 285.79)">об/мин</text>
<text font-family="Liberation Sans" font-size="10.00" fill="#111" stroke="#111" stroke-width="0.12" transform="matrix(1.1085 0 0 1 552.52 433.60)">1500</text>
<text font-family="Liberation Sans" font-size="9.87" fill="#111" stroke="#111" stroke-width="0.12" transform="matrix(1.2456 0 0 1 553.21 448.60)">об/мин</text>
<text font-family="Liberation Sans" font-size="11.27" fill="#111" stroke="#111" stroke-width="0.12" transform="matrix(0.9922 0 0 1 502.72 523.69)">1000</text>
<text font-family="Liberation Sans" font-size="10.67" fill="#111" stroke="#111" stroke-width="0.12" transform="matrix(1.1613 0 0 1 503.50 538.89)">об/мин</text>
<text font-family="Liberation Sans" font-size="14.37" fill="#111" stroke="#111" stroke-width="0.25" transform="translate(54.16 582.64) rotate(-90) scale(0.9867 1)">t=600 °C</text>
<text font-family="Liberation Sans" font-size="15.35" fill="#111" stroke="#111" stroke-width="0.25" transform="translate(134.75 582.54) rotate(-90) scale(0.9233 1)">t=400 °C</text>
<text font-family="Liberation Sans" font-size="15.35" fill="#111" stroke="#111" stroke-width="0.25" transform="translate(207.35 582.54) rotate(-90) scale(0.9233 1)">t=200 °C</text>
<text font-family="Liberation Sans" font-size="14.37" fill="#111" stroke="#111" stroke-width="0.25" transform="translate(297.36 583.15) rotate(-90) scale(1.0190 1)">t=20 °C</text>
<text font-family="Liberation Sans" font-size="10.60" fill="#111" stroke="#111" stroke-width="0.25" transform="translate(570.53 79.52) rotate(-60) scale(1.0700 1)">η=0,74</text>
<text font-family="Liberation Sans" font-size="10.60" fill="#111" stroke="#111" stroke-width="0.25" transform="translate(612.28 79.61) rotate(-60) scale(1.0000 1)">0,81</text>
<text font-family="Liberation Sans" font-size="10.60" fill="#111" stroke="#111" stroke-width="0.25" transform="translate(636.12 79.56) rotate(-60) scale(1.0000 1)">0,84</text>
<text font-family="Liberation Sans" font-size="10.60" fill="#111" stroke="#111" stroke-width="0.25" transform="translate(662.68 80.21) rotate(-60) scale(1.0000 1)">0,81</text>
<text font-family="Liberation Sans" font-size="10.60" fill="#111" stroke="#111" stroke-width="0.25" transform="translate(703.82 80.31) rotate(-60) scale(1.0000 1)">0,74</text>
<text font-family="Liberation Sans" font-size="10.60" fill="#111" stroke="#111" stroke-width="0.25" transform="translate(710.36 122.84) rotate(-60) scale(1.0000 1)">0,7</text>
</svg></body></html>
